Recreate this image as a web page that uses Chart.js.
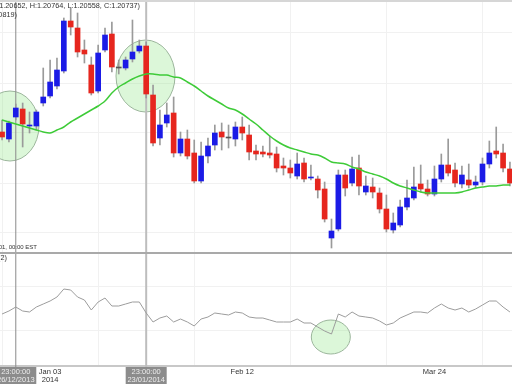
<!DOCTYPE html>
<html>
<head>
<meta charset="utf-8">
<script src="https://cdn.jsdelivr.net/npm/chart.js@4.4.0/dist/chart.umd.min.js"></script>
<style>
  html, body { margin: 0; padding: 0; background: #fff; }
  #wrap { width: 512px; height: 384px; }
</style>
</head>
<body>
<div id="wrap"><canvas id="chart" width="512" height="384"></canvas></div>
<script>
// daily candles, one per trading day
const opens = [
  1.3768, 1.3761, 1.3783, 1.3791, 1.3774, 1.3774, 1.3797, 1.3804, 1.3814, 1.3829,
  1.3879, 1.3872, 1.3850, 1.3835, 1.3809, 1.3850, 1.3866, 1.3832, 1.3832, 1.3841,
  1.3849, 1.3854, 1.3805, 1.3762, 1.3777, 1.3787, 1.3747, 1.3761, 1.3747, 1.3719,
  1.3744, 1.3755, 1.3768, 1.3762, 1.3761, 1.3773, 1.3765, 1.3749, 1.3748, 1.3747,
  1.3746, 1.3734, 1.3732, 1.3724, 1.3737, 1.3722, 1.3721, 1.3711, 1.3662, 1.3671,
  1.3725, 1.3717, 1.3732, 1.3708, 1.3713, 1.3707, 1.3691, 1.3670, 1.3675, 1.3693,
  1.3702, 1.3716, 1.3711, 1.3706, 1.3721, 1.3735, 1.3730, 1.3716, 1.3720, 1.3715,
  1.3718, 1.3736, 1.3749, 1.3747, 1.3731
];
const highs = [
  1.3780, 1.3779, 1.3796, 1.3797, 1.3788, 1.3790, 1.3832, 1.3840, 1.3842, 1.3882,
  1.3892, 1.3887, 1.3860, 1.3843, 1.3855, 1.3872, 1.3878, 1.3840, 1.3843, 1.3880,
  1.3860, 1.3858, 1.3815, 1.3790, 1.3797, 1.3803, 1.3768, 1.3770, 1.3760, 1.3758,
  1.3762, 1.3775, 1.3777, 1.3775, 1.3778, 1.3783, 1.3775, 1.3755, 1.3754, 1.3764,
  1.3753, 1.3742, 1.3740, 1.3747, 1.3742, 1.3735, 1.3724, 1.3718, 1.3681, 1.3730,
  1.3730, 1.3743, 1.3745, 1.3724, 1.3722, 1.3712, 1.3705, 1.3687, 1.3700, 1.3720,
  1.3733, 1.3735, 1.3720, 1.3734, 1.3746, 1.3761, 1.3737, 1.3734, 1.3736, 1.3724,
  1.3742, 1.3759, 1.3773, 1.3756, 1.3738
];
const lows = [
  1.3760, 1.3758, 1.3780, 1.3753, 1.3767, 1.3770, 1.3794, 1.3802, 1.3811, 1.3827,
  1.3865, 1.3843, 1.3837, 1.3805, 1.3807, 1.3848, 1.3828, 1.3826, 1.3830, 1.3838,
  1.3847, 1.3802, 1.3754, 1.3755, 1.3773, 1.3743, 1.3744, 1.3741, 1.3717, 1.3717,
  1.3737, 1.3750, 1.3750, 1.3752, 1.3754, 1.3760, 1.3740, 1.3740, 1.3743, 1.3742,
  1.3728, 1.3725, 1.3722, 1.3721, 1.3718, 1.3720, 1.3702, 1.3678, 1.3652, 1.3669,
  1.3704, 1.3714, 1.3705, 1.3705, 1.3702, 1.3687, 1.3668, 1.3667, 1.3673, 1.3690,
  1.3700, 1.3708, 1.3704, 1.3704, 1.3718, 1.3724, 1.3713, 1.3712, 1.3712, 1.3712,
  1.3715, 1.3732, 1.3742, 1.3728, 1.3714
];
const closes = [
  1.3763, 1.3777, 1.3792, 1.3776, 1.3775, 1.3788, 1.3803, 1.3818, 1.3830, 1.3879,
  1.3873, 1.3848, 1.3846, 1.3807, 1.3847, 1.3865, 1.3833, 1.3832, 1.3840, 1.3848,
  1.3854, 1.3806, 1.3757, 1.3775, 1.3785, 1.3747, 1.3761, 1.3744, 1.3719, 1.3744,
  1.3754, 1.3767, 1.3763, 1.3762, 1.3773, 1.3767, 1.3748, 1.3746, 1.3746, 1.3745,
  1.3732, 1.3732, 1.3727, 1.3736, 1.3721, 1.3723, 1.3710, 1.3681, 1.3669, 1.3725,
  1.3712, 1.3731, 1.3714, 1.3714, 1.3708, 1.3691, 1.3671, 1.3677, 1.3693, 1.3702,
  1.3713, 1.3711, 1.3706, 1.3721, 1.3735, 1.3727, 1.3717, 1.3725, 1.3715, 1.3718,
  1.3736, 1.3747, 1.3746, 1.3732, 1.3717
];
// moving average (green line)
const sma = [
  1.3780, 1.3778, 1.3776, 1.3774, 1.3772, 1.3770, 1.3768, 1.3767, 1.3770, 1.3773,
  1.3778, 1.3782, 1.3786, 1.3790, 1.3794, 1.3799, 1.3807, 1.3813, 1.3817, 1.3821,
  1.3824, 1.3826, 1.3826, 1.3825, 1.3825, 1.3823, 1.3822, 1.3818, 1.3814, 1.3809,
  1.3804, 1.3800, 1.3796, 1.3792, 1.3790, 1.3786, 1.3781, 1.3776, 1.3770, 1.3764,
  1.3759, 1.3755, 1.3752, 1.3750, 1.3748, 1.3746, 1.3745, 1.3742, 1.3738, 1.3737,
  1.3736, 1.3733, 1.3731, 1.3728, 1.3726, 1.3724, 1.3721, 1.3717, 1.3714, 1.3712,
  1.3710, 1.3708, 1.3707, 1.3707, 1.3707, 1.3707, 1.3707, 1.3708, 1.3710, 1.3712,
  1.3713, 1.3714, 1.3714, 1.3715, 1.3715
];
// lower panel oscillator
const osc = [
  52, 55, 59, 55, 54, 59, 62, 65, 69, 77,
  76, 69, 66, 56, 64, 68, 60, 60, 62, 64,
  64, 53, 44, 48, 50, 44, 47, 44, 40, 47,
  49, 53, 52, 51, 54, 53, 49, 48, 48, 46,
  44, 44, 44, 47, 43, 43, 39, 35, 32, 52,
  49, 54, 50, 49, 48, 45, 41, 43, 48, 51,
  54, 54, 53, 58, 62, 58, 56, 58, 54, 57,
  61, 65, 65, 59, 54
];

const xTickIdx = [8, 22, 36, 50, 64];
const xTickLabels = [['Jan 03', '2014'], '', 'Feb 12', '', 'Mar 24'];
const priceGrid = [1.3867, 1.3817, 1.3767, 1.3717, 1.3667];
const oscGrid = [36, 80];

const headerLines = ['(O:1.20652, H:1.20764, L:1.20558, C:1.20737)', 'SMA(20, 1.20819)'];
const footNote = '2014-04-01, 00:00 EST';
const oscTitle = 'RSI(2)';

// crosshair markers at candle index
const markerIdx = [3, 22];
const markerTimes = ['23:00:00', '23:00:00'];
const markerDates = ['26/12/2013', '23/01/2014'];

// highlighted zones: candle index, value, axis
const zoneIdx = [2.15, 21.9, 48.9];
const zoneVal = [1.3774, 1.3824, 29];
const zoneAxis = ['y', 'y', 'yOsc'];

const UP = '#1b1be6';
const DOWN = '#e6261e';
const FONT = "'Liberation Sans', Arial, sans-serif";

const idx = opens.map((_, i) => i + 1);
const bodyColors = opens.map((o, i) => closes[i] > o ? UP : (closes[i] < o ? DOWN : '#555'));

const overlay = {
    id: 'overlay',
    beforeDatasetsDraw(chart) {
        const { ctx, scales } = chart;
        const radii = [[29, 35], [29.5, 36], [19.5, 17]];
        ctx.save();
        // green zones
        zoneIdx.forEach((v, i) => {
            const x = scales.x.getPixelForValue(v);
            const y = scales[zoneAxis[i]].getPixelForValue(zoneVal[i]);
            ctx.beginPath();
            ctx.ellipse(x, y, radii[i][0], radii[i][1], 0, 0, Math.PI * 2);
            ctx.fillStyle = 'rgba(130, 225, 120, 0.28)';
            ctx.fill();
            ctx.lineWidth = 1;
            ctx.strokeStyle = '#9bb59b';
            ctx.stroke();
        });
        // crosshair lines
        markerIdx.forEach((v, i) => {
            const x = scales.x.getPixelForValue(v);
            ctx.beginPath();
            ctx.moveTo(x, 0);
            ctx.lineTo(x, 368);
            ctx.lineWidth = i === 0 ? 1 : 2;
            ctx.strokeStyle = i === 0 ? '#8a8a8a' : '#bdbdbd';
            ctx.stroke();
        });
        ctx.restore();
    },
    afterDraw(chart) {
        const { ctx, scales } = chart;
        ctx.save();
        // panel borders
        ctx.fillStyle = '#d6d6d6';
        ctx.fillRect(0, 0, 512, 2);
        ctx.fillStyle = '#a9a9a9';
        ctx.fillRect(0, scales.y.bottom - 1, 512, 2);

        ctx.textBaseline = 'middle';
        ctx.fillStyle = '#333';
        ctx.textAlign = 'right';
        ctx.font = '7.3px ' + FONT;
        ctx.fillText(headerLines[0], 140, 6);
        ctx.fillText(headerLines[1], 17, 14.5);
        ctx.fillText(oscTitle, 7, 257.5);
        ctx.font = '6px ' + FONT;
        ctx.fillText(footNote, 37, 247);

        // crosshair date boxes
        ctx.font = '7.5px ' + FONT;
        ctx.textAlign = 'center';
        markerIdx.forEach((v, i) => {
            const x = scales.x.getPixelForValue(v);
            ctx.fillStyle = '#8c8c8c';
            ctx.fillRect(x - 20.5, 367, 41, 17);
            ctx.fillStyle = '#ececec';
            ctx.fillText(markerTimes[i], x, 372);
            ctx.fillText(markerDates[i], x, 379.5);
        });
        ctx.restore();
    }
};

Chart.defaults.font.family = FONT;

new Chart(document.getElementById('chart').getContext('2d'), {
    type: 'bar',
    data: {
        datasets: [
            {
                label: 'Wicks',
                data: idx.map((x, i) => ({ x, y: [lows[i], highs[i]] })),
                backgroundColor: '#9a9a9a',
                barThickness: 1,
                grouped: false,
                yAxisID: 'y',
                order: 3
            },
            {
                label: 'Bodies',
                data: idx.map((x, i) => ({ x, y: [opens[i], closes[i]] })),
                backgroundColor: bodyColors,
                barThickness: 5,
                minBarLength: 1,
                grouped: false,
                yAxisID: 'y',
                order: 2
            },
            {
                type: 'line',
                label: 'SMA',
                data: idx.map((x, i) => ({ x, y: sma[i] })),
                borderColor: '#3ecb38',
                borderWidth: 1.5,
                pointRadius: 0,
                tension: 0.3,
                yAxisID: 'y',
                order: 1
            },
            {
                type: 'line',
                label: 'Oscillator',
                data: idx.map((x, i) => ({ x, y: osc[i] })),
                borderColor: '#9c9c9c',
                borderWidth: 1,
                pointRadius: 0,
                tension: 0,
                yAxisID: 'yOsc',
                order: 1
            }
        ]
    },
    options: {
        responsive: false,
        animation: false,
        events: [],
        layout: { padding: 0 },
        plugins: { legend: { display: false }, tooltip: { enabled: false } },
        scales: {
            x: {
                type: 'linear',
                min: 0.7,
                max: 75.3,
                offset: false,
                afterBuildTicks: s => { s.ticks = xTickIdx.map(v => ({ value: v })); },
                afterFit: s => { s.height = 18; },
                ticks: {
                    autoSkip: false,
                    maxRotation: 0,
                    padding: 2,
                    color: '#333',
                    font: { size: 7.5, lineHeight: 1.07 },
                    callback: (v, i) => xTickLabels[i]
                },
                grid: { color: '#f1f1f1', drawTicks: false },
                border: { display: true, color: '#c8c8c8', width: 2 }
            },
            yOsc: {
                type: 'linear',
                position: 'left',
                stack: 'panels',
                stackWeight: 113,
                min: 0,
                max: 113,
                afterBuildTicks: s => { s.ticks = oscGrid.map(v => ({ value: v })); },
                ticks: { display: false },
                grid: { color: '#f1f1f1', drawTicks: false },
                border: { display: false }
            },
            y: {
                type: 'linear',
                position: 'left',
                stack: 'panels',
                stackWeight: 253,
                min: 1.3647,
                max: 1.3900,
                afterBuildTicks: s => { s.ticks = priceGrid.map(v => ({ value: v })); },
                ticks: { display: false },
                grid: { color: '#f1f1f1', drawTicks: false },
                border: { display: false }
            }
        }
    },
    plugins: [overlay]
});
</script>
</body>
</html>
